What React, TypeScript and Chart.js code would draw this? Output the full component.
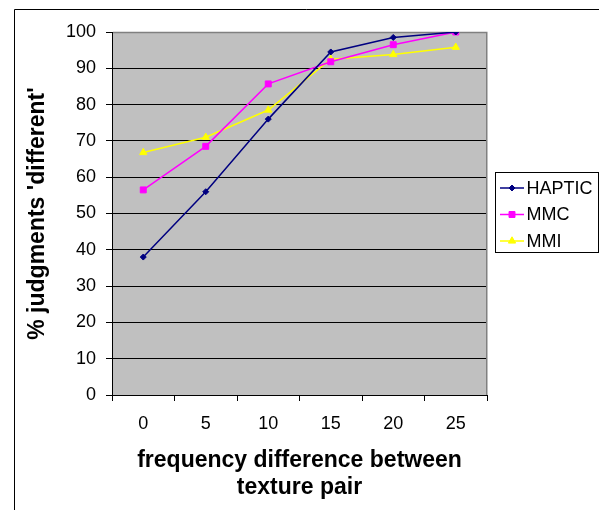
import React, { useEffect, useRef } from 'react';
import { Chart, registerables } from 'chart.js';
import { drawPoint } from 'chart.js/helpers';

Chart.register(...registerables);

// ---- data ----
const categories = ['0', '5', '10', '15', '20', '25'];
const hapticValues = [38, 56, 76, 94.5, 98.5, 100];
const mmcValues = [56.5, 68.5, 85.7, 91.8, 96.5, 100];
const mmiValues = [66.8, 71, 78.5, 92.5, 93.8, 95.8];
const seriesNames = ['HAPTIC', 'MMC', 'MMI'];
const seriesColors = ['#000080', '#FF00FF', '#FFFF00'];
const seriesMarkers = ['rectRot', 'rect', 'triangle'];
const seriesMarkerSizes = [3, 4.2, 4.2];
const yTickMin = 0;
const yTickMax = 100;
const yTickStep = 10;
const xTitleLines = ['frequency difference between', 'texture pair'];
const yTitle = "% judgments 'different'";

const FONT = '"Liberation Sans", Arial, Helvetica, sans-serif';

const decorPlugin = {
  id: 'decor',
  beforeDraw(chart: any) {
    const { ctx, chartArea: a } = chart;
    ctx.save();
    ctx.fillStyle = '#FFFFFF';
    ctx.fillRect(0, 0, chart.width, chart.height);
    ctx.fillStyle = '#C0C0C0';
    ctx.fillRect(a.left, a.top, a.right - a.left, a.bottom - a.top);
    ctx.restore();
  },
  beforeDatasetsDraw(chart: any) {
    const { ctx, chartArea: a } = chart;
    ctx.save();
    ctx.strokeStyle = '#808080';
    ctx.lineWidth = 1.5;
    ctx.beginPath();
    ctx.moveTo(a.left + 1, a.top + 0.5);
    ctx.lineTo(a.right - 0.25, a.top + 0.5);
    ctx.lineTo(a.right - 0.25, a.bottom);
    ctx.stroke();
    ctx.restore();
  },
  afterDraw(chart: any) {
    const { ctx, chartArea: a } = chart;
    ctx.save();
    // outer frame
    ctx.strokeStyle = '#000000';
    ctx.lineWidth = 1;
    ctx.beginPath();
    ctx.moveTo(14.5, chart.height);
    ctx.lineTo(14.5, 9.5);
    ctx.lineTo(chart.width, 9.5);
    ctx.stroke();

    // axis titles
    ctx.fillStyle = '#000000';
    ctx.font = `bold 23px ${FONT}`;
    ctx.textAlign = 'center';
    ctx.textBaseline = 'middle';
    const cx = (a.left + a.right) / 2;
    xTitleLines.forEach((line, i) => {
      ctx.fillText(line, cx, a.bottom + 66 + i * 27);
    });
    ctx.save();
    ctx.translate(a.left - 74, (a.top + a.bottom) / 2);
    ctx.rotate(-Math.PI / 2);
    ctx.fillText(yTitle, 0, 0);
    ctx.restore();

    // legend
    const lx = a.right + 8;
    const ly = a.top + 140;
    const lw = 103;
    const lh = 80;
    ctx.strokeStyle = '#000000';
    ctx.lineWidth = 1;
    ctx.strokeRect(Math.round(lx) + 0.5, Math.round(ly) + 0.5, lw, lh);
    ctx.font = `18px ${FONT}`;
    ctx.textAlign = 'left';
    ctx.textBaseline = 'middle';
    chart.data.datasets.forEach((ds: any, i: number) => {
      const y = ly + 16 + i * 26.5;
      ctx.strokeStyle = ds.borderColor;
      ctx.lineWidth = 1.5;
      ctx.beginPath();
      ctx.moveTo(lx + 5, y);
      ctx.lineTo(lx + 29, y);
      ctx.stroke();
      ctx.fillStyle = ds.pointBackgroundColor;
      ctx.strokeStyle = ds.pointBorderColor;
      ctx.lineWidth = 1;
      drawPoint(ctx, { pointStyle: ds.pointStyle, radius: ds.pointRadius, rotation: 0, borderWidth: 1 }, lx + 17, y);
      ctx.fillStyle = '#000000';
      ctx.fillText(ds.label, lx + 31.5, y + 1);
    });
    ctx.restore();
  },
};

export default function App() {
  const canvasRef = useRef<HTMLCanvasElement | null>(null);

  useEffect(() => {
    const canvas = canvasRef.current;
    if (!canvas) return;
    const seriesValues = [hapticValues, mmcValues, mmiValues];
    const chart = new Chart(canvas, {
      type: 'line',
      data: {
        labels: categories,
        datasets: seriesNames.map((name, i) => ({
          label: name,
          data: seriesValues[i],
          borderColor: seriesColors[i],
          backgroundColor: seriesColors[i],
          pointBackgroundColor: seriesColors[i],
          pointBorderColor: seriesColors[i],
          pointStyle: seriesMarkers[i] as any,
          pointRadius: seriesMarkerSizes[i],
          pointBorderWidth: 1,
          borderWidth: 1.5,
          tension: 0,
          fill: false,
        })),
      },
      options: {
        responsive: false,
        animation: false,
        devicePixelRatio: 1,
        layout: { padding: { top: 32, right: 112, left: 0, bottom: 0 } },
        plugins: {
          legend: { display: false },
          tooltip: { enabled: false },
          title: { display: false },
        },
        scales: {
          x: {
            type: 'category',
            offset: true,
            grid: {
              offset: true,
              drawOnChartArea: false,
              drawTicks: true,
              tickLength: 6,
              tickColor: '#000000',
              color: '#000000',
            },
            border: { display: true, color: '#000000', width: 1 },
            ticks: {
              font: { family: FONT, size: 18 },
              color: '#000000',
              padding: 12,
              maxRotation: 0,
              autoSkip: false,
            },
            afterFit(scale: any) {
              scale.height = 115;
            },
          },
          y: {
            min: yTickMin,
            max: yTickMax,
            ticks: {
              stepSize: yTickStep,
              font: { family: FONT, size: 18 },
              color: '#000000',
              padding: 10,
            },
            grid: {
              color: (c: any) => (c.tick && c.tick.value === yTickMax ? 'rgba(0,0,0,0)' : '#000000'),
              tickColor: '#000000',
              tickLength: 6,
              lineWidth: 1,
            },
            border: { display: true, color: '#000000', width: 1 },
            afterFit(scale: any) {
              scale.width = 112;
            },
          },
        },
      },
      plugins: [decorPlugin],
    });
    return () => chart.destroy();
  }, []);

  return (
    <div style={{ position: 'absolute', left: 0, top: 0, width: 599, height: 510, background: '#fff' }}>
      <canvas ref={canvasRef} width={599} height={510} style={{ display: 'block' }} />
    </div>
  );
}
